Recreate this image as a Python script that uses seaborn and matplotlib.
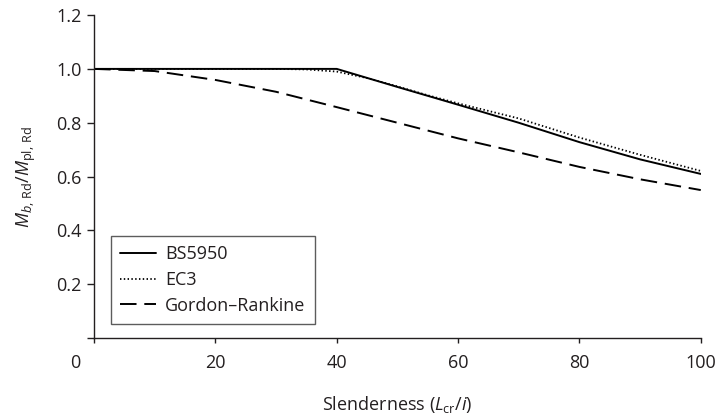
import numpy as np
import pandas as pd
import matplotlib
matplotlib.use("Agg")
import matplotlib.pyplot as plt
import matplotlib.transforms as mtransforms
import seaborn as sns

# ---- data ----
bs_x = [0, 40, 50, 60, 70, 80, 90, 100]
bs_y = [1.0, 1.0, 0.933, 0.867, 0.800, 0.728, 0.664, 0.610]

ec3_x = [0, 30, 35, 40, 45, 50, 55, 60, 70, 80, 90, 100]
ec3_y = [1.0, 1.0, 0.998, 0.990, 0.966, 0.935, 0.902, 0.872, 0.816, 0.745, 0.681, 0.621]

gr_x = [0, 10, 20, 30, 40, 50, 60, 70, 80, 90, 100]
gr_y = [1.0, 0.992, 0.959, 0.915, 0.858, 0.800, 0.742, 0.690, 0.636, 0.590, 0.550]

x_ticks = [0, 20, 40, 60, 80, 100]
y_ticks = [0, 0.2, 0.4, 0.6, 0.8, 1.0, 1.2]
y_tick_labels = ["", "0.2", "0.4", "0.6", "0.8", "1.0", "1.2"]

sns.set_style("ticks")
plt.rcParams["font.family"] = ["Open Sans", "DejaVu Sans"]
plt.rcParams["mathtext.fontset"] = "custom"
plt.rcParams["mathtext.rm"] = "Open Sans"
plt.rcParams["mathtext.it"] = "Open Sans:italic"
plt.rcParams["mathtext.bf"] = "Open Sans:bold"

txt = "#231f20"

fig = plt.figure(figsize=(7.18, 4.18), dpi=100)
ax = fig.add_axes([0.131, 0.191, 0.845, 0.773])

lw = 1.4
sns.lineplot(x=bs_x, y=bs_y, ax=ax, color="black", lw=lw, label="BS5950")
sns.lineplot(x=ec3_x, y=ec3_y, ax=ax, color="black", lw=1.3, label="EC3",
             linestyle=(0, (0.8, 1.3)))
sns.lineplot(x=gr_x, y=gr_y, ax=ax, color="black", lw=lw, label="Gordon\u2013Rankine",
             linestyle=(0, (8.5, 4.0)))

ax.set_xlim(0, 100)
ax.set_ylim(0, 1.2)
ax.set_xticks(x_ticks)
ax.set_xticklabels([str(t) for t in x_ticks])
ax.set_yticks(y_ticks)
ax.set_yticklabels(y_tick_labels)

for s in ["top", "right"]:
    ax.spines[s].set_visible(False)
for s in ["left", "bottom"]:
    ax.spines[s].set_color(txt)
    ax.spines[s].set_linewidth(1.0)

ax.tick_params(axis="y", direction="out", length=5, width=1.0, pad=4,
               labelsize=13, colors=txt)
ax.tick_params(axis="x", direction="out", length=3.5, width=1.0, pad=8,
               labelsize=13, colors=txt)

# shift the "0" x tick label to the left like the reference
lab0 = ax.get_xticklabels()[0]
lab0.set_transform(lab0.get_transform() +
                   mtransforms.ScaledTranslation(-0.19, 0, fig.dpi_scale_trans))

ax.set_xlabel(r"Slenderness ($L_{\mathrm{cr}}$/$i$)", fontsize=13, labelpad=16,
              color=txt)
ax.set_ylabel(r"$M_{b,\,\mathrm{Rd}}/M_{\mathrm{pl,\,Rd}}$", fontsize=13,
              labelpad=13, color=txt)

leg = ax.legend(loc="lower left", bbox_to_anchor=(0.028, 0.045), fontsize=13,
                frameon=True, fancybox=False, handlelength=2.0,
                borderpad=0.5, labelspacing=0.42, handletextpad=0.5,
                borderaxespad=0)
leg.get_frame().set_edgecolor("#333333")
leg.get_frame().set_linewidth(1.0)
for t in leg.get_texts():
    t.set_color(txt)

fig.savefig("out.png", dpi=100)
